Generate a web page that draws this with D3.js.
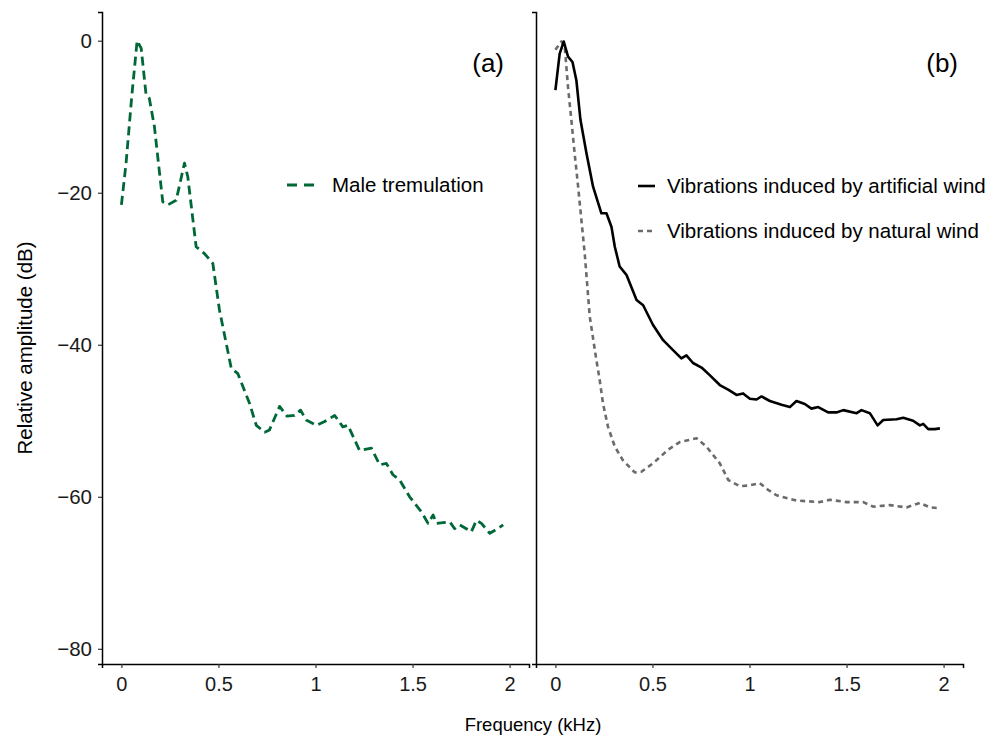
<!DOCTYPE html>
<html lang="en">
<head>
<meta charset="UTF-8">
<title>Relative amplitude spectra</title>
<script src="https://d3js.org/d3.v7.min.js"></script>
<style>
  body { margin: 0; background: #fff; }
  svg { display: block; font-family: "Liberation Sans", Arial, sans-serif; }
</style>
</head>
<body>
<svg width="1002" height="738"></svg>
<script>
// panel (a): male tremulation
const maleFreq = [0, 0.024, 0.053, 0.081, 0.102, 0.127, 0.144, 0.170, 0.213, 0.239, 0.282, 0.325, 0.342,
  0.385, 0.428, 0.471, 0.505, 0.566, 0.600, 0.660, 0.695, 0.738, 0.763, 0.815, 0.853, 0.892, 0.923,
  0.952, 1.004, 1.047, 1.099, 1.141, 1.167, 1.227, 1.288, 1.331, 1.365, 1.399, 1.434, 1.485, 1.546,
  1.580, 1.606, 1.623, 1.657, 1.692, 1.717, 1.743, 1.803, 1.829, 1.855, 1.898, 1.932, 1.967];
const maleDb = [-21.6, -16.1, -7.4, 0, -1.0, -7.1, -7.6, -11.3, -21.2, -21.6, -21.0, -16.1, -17.9,
  -27.1, -28.0, -29.3, -35.4, -43.1, -43.8, -47.7, -50.6, -51.5, -51.2, -48.1, -49.4, -49.3, -48.6,
  -49.9, -50.6, -50.1, -49.3, -50.8, -50.6, -53.9, -53.6, -55.8, -55.6, -57.1, -57.8, -60.0, -62.0,
  -63.5, -62.4, -63.5, -63.4, -63.3, -64.2, -63.7, -64.6, -63.1, -63.5, -64.8, -64.3, -63.7];

// panel (b): artificial wind
const artFreq = [0, 0.022, 0.043, 0.065, 0.088, 0.108, 0.129, 0.160, 0.194, 0.237, 0.263, 0.289, 0.306,
  0.331, 0.366, 0.418, 0.452, 0.503, 0.555, 0.606, 0.649, 0.675, 0.709, 0.753, 0.795, 0.847, 0.890,
  0.933, 0.967, 1.002, 1.036, 1.062, 1.105, 1.165, 1.208, 1.242, 1.285, 1.319, 1.354, 1.405, 1.448,
  1.483, 1.552, 1.577, 1.620, 1.660, 1.689, 1.758, 1.792, 1.843, 1.878, 1.895, 1.921, 1.955, 1.981];
const artDb = [-6.5, -1.7, -0.1, -2.1, -2.8, -5.2, -10.4, -14.8, -19.2, -22.7, -22.7, -24.5, -27.1,
  -29.7, -30.8, -34.1, -34.8, -37.4, -39.4, -40.7, -41.8, -41.4, -42.4, -43.0, -44.0, -45.3, -45.9,
  -46.6, -46.4, -47.1, -47.2, -46.8, -47.4, -47.9, -48.2, -47.4, -47.8, -48.4, -48.2, -48.9, -48.9,
  -48.6, -49.0, -48.6, -49.0, -50.6, -49.9, -49.8, -49.6, -50.0, -50.6, -50.4, -51.1, -51.1, -51.0];

// panel (b): natural wind
const natFreq = [0, 0.031, 0.048, 0.065, 0.082, 0.099, 0.117, 0.134, 0.151, 0.177, 0.211, 0.228, 0.245,
  0.271, 0.306, 0.348, 0.409, 0.443, 0.503, 0.581, 0.641, 0.727, 0.778, 0.847, 0.891, 0.950, 1.002,
  1.053, 1.096, 1.139, 1.242, 1.362, 1.414, 1.500, 1.586, 1.637, 1.723, 1.809, 1.878, 1.929, 1.981];
const natDb = [-1.2, -0.1, -0.8, -6.1, -10.4, -14.8, -19.2, -23.6, -28.0, -36.3, -42.0, -44.6, -47.7,
  -50.8, -53.4, -55.2, -56.8, -56.7, -55.6, -53.8, -52.8, -52.3, -53.4, -55.6, -57.8, -58.6, -58.5,
  -58.2, -59.1, -59.8, -60.5, -60.7, -60.4, -60.7, -60.7, -61.3, -61.1, -61.4, -60.8, -61.4, -61.5];

const xTicks = [0, 0.5, 1, 1.5, 2];
const yTicks = [0, -20, -40, -60, -80];

const svg = d3.select("svg");
const plotTop = 12, plotBottom = 664;

const y = d3.scaleLinear().domain([-82, 3.78]).range([plotBottom, plotTop]);
const xA = d3.scaleLinear().domain([-0.1, 2.1]).range([102, 529]);
const xB = d3.scaleLinear().domain([-0.1, 2.1]).range([536, 963]);

const fmt = d => String(d).replace("-", "\u2212");

function drawAxes(x, withY) {
  const gx = svg.append("g").attr("transform", `translate(0,${plotBottom})`)
    .call(d3.axisBottom(x).tickValues(xTicks).tickSize(4).tickPadding(6).tickFormat(d => d));
  gx.select(".domain").attr("stroke", "#000").attr("stroke-width", 1.5);
  gx.selectAll(".tick line").attr("stroke", "#333").attr("stroke-width", 1.2);
  gx.selectAll(".tick text").attr("fill", "#1a1a1a").style("font-size", "20px").attr("dy", "0.85em");

  const gy = svg.append("g").attr("transform", `translate(${x.range()[0]},0)`)
    .call(d3.axisLeft(y).tickValues(withY ? yTicks : []).tickSize(4).tickPadding(6).tickFormat(fmt));
  gy.select(".domain").attr("stroke", "#000").attr("stroke-width", 1.5);
  gy.selectAll(".tick line").attr("stroke", "#333").attr("stroke-width", 1.2);
  gy.selectAll(".tick text").attr("fill", "#1a1a1a").style("font-size", "20.5px");
}
drawAxes(xA, true);
drawAxes(xB, false);

function drawLine(x, fr, db, color, width, dash) {
  const pts = fr.map((f, i) => [f, db[i]]);
  svg.append("path")
    .datum(pts)
    .attr("fill", "none")
    .attr("stroke", color)
    .attr("stroke-width", width)
    .attr("stroke-linejoin", "round")
    .attr("stroke-dasharray", dash)
    .attr("d", d3.line().x(d => x(d[0])).y(d => y(d[1])));
}

const green = "#006837", grey = "#6b6b6b";
drawLine(xA, maleFreq, maleDb, green, 2.8, "9,5");
drawLine(xB, natFreq, natDb, grey, 2.6, "5,4");
drawLine(xB, artFreq, artDb, "#000", 2.6, null);

// panel letters
svg.append("text").attr("x", 504).attr("y", 72).attr("text-anchor", "end")
  .style("font-size", "26px").text("(a)");
svg.append("text").attr("x", 958).attr("y", 72).attr("text-anchor", "end")
  .style("font-size", "26px").text("(b)");

// legends
function legendItem(x1, x2, tx, yy, color, width, dash, label) {
  svg.append("line").attr("x1", x1).attr("x2", x2).attr("y1", yy).attr("y2", yy)
    .attr("stroke", color).attr("stroke-width", width).attr("stroke-dasharray", dash);
  svg.append("text").attr("x", tx).attr("y", yy).attr("dy", "0.36em")
    .style("font-size", "20.5px").attr("fill", "#000").text(label);
}
legendItem(287, 315, 332, 185, green, 2.8, "10,7", "Male tremulation");
legendItem(638, 655, 667, 186, "#000", 2.6, null, "Vibrations induced by artificial wind");
legendItem(638, 655, 667, 231, grey, 2.6, "5,4", "Vibrations induced by natural wind");

// axis titles
svg.append("text").attr("transform", "rotate(-90)")
  .attr("x", -348).attr("y", 32)
  .attr("text-anchor", "middle").style("font-size", "20.5px").text("Relative amplitude (dB)");
svg.append("text").attr("x", 533).attr("y", 731)
  .attr("text-anchor", "middle").style("font-size", "18.5px").text("Frequency (kHz)");
</script>
</body>
</html>
